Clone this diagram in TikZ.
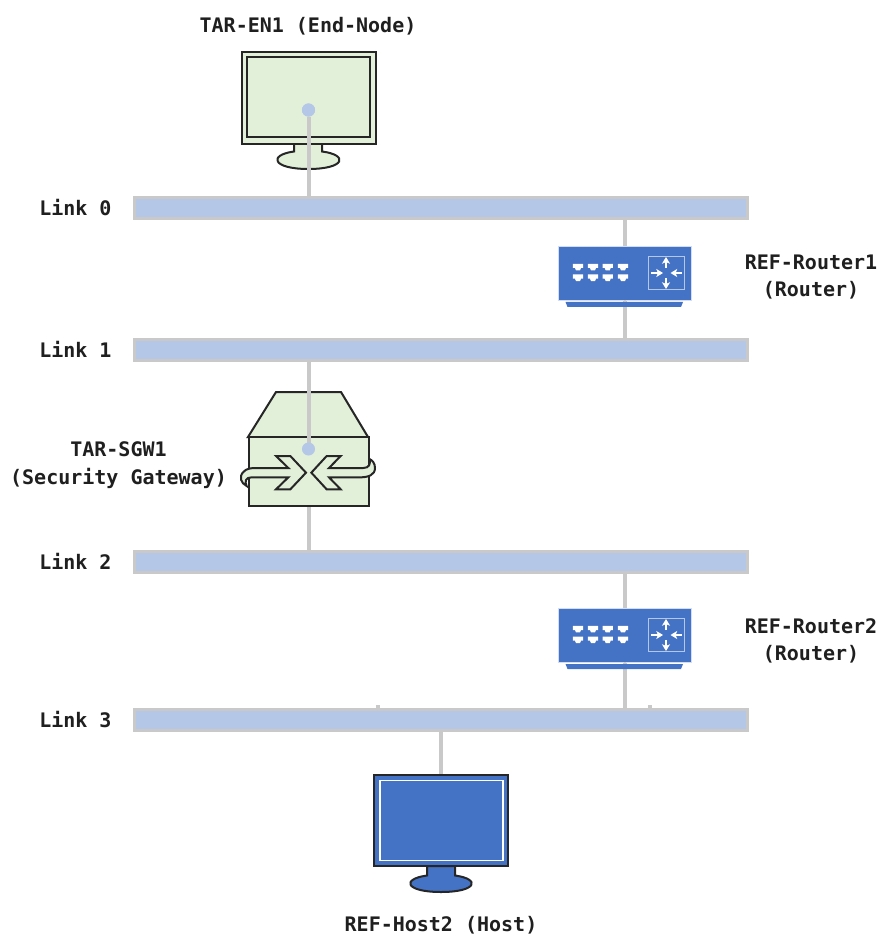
\documentclass[tikz,border=0pt]{standalone}
\usepackage{fontspec}
\setmonofont{DejaVu Sans Mono}
\usetikzlibrary{arrows.meta}
\pgfdeclarelayer{back}
\pgfsetlayers{back,main}
\definecolor{barblue}{HTML}{B4C7E7}
\definecolor{wiregray}{HTML}{C9C9C9}
\definecolor{devblue}{HTML}{4472C4}
\definecolor{devgreen}{HTML}{E2F0D9}
\tikzset{
  lbl/.style={font=\ttfamily\bfseries\fontsize{15pt}{20.6pt}\selectfont, text=black!88, inner sep=0pt, align=center},
  linkbar/.style={draw=wiregray, fill=barblue, line width=2.6pt, minimum width=459.5pt, minimum height=15.8pt, inner sep=0pt, outer sep=0pt},
  wire/.style={draw=wiregray, line width=3pt},
  enddot/.style={circle, fill=barblue, minimum size=9.8pt, inner sep=0pt, outer sep=0pt},
  box/.style={rectangle, inner sep=0pt, outer sep=0pt},
  dev/.style={draw=black!85, line width=1.5pt, line join=miter},
}
\newcommand{\routericon}[2]{%
  \begin{scope}[shift={(#1,#2)}]
    \fill[devblue,draw=barblue!60!white,line width=.6pt] (-66.5,-27) rectangle (66.5,27);
    \fill[devblue] (-59,29) -- (58.5,29) -- (56.5,34) -- (-57,34) -- cycle;
    \draw[barblue,line width=.7pt] (23.5,-17) rectangle (59.5,16);
    \foreach \xx in {-46.5,-31.5,-16.8,-1.5}{
      \foreach \yy in {-6,4.7}{
        \fill[white] (\xx-5.2,\yy-3.2) -- (\xx+5.2,\yy-3.2) -- (\xx+5.2,\yy+1) -- (\xx+3,\yy+1) -- (\xx+2,\yy+3.4) -- (\xx-2,\yy+3.4) -- (\xx-3,\yy+1) -- (\xx-5.2,\yy+1) -- cycle;
      }
    }
    \begin{scope}[white,line width=1.1pt,-{Stealth[length=5pt,width=6pt,inset=1.2pt]}]
      \draw (26.5,0) -- (38.5,0);
      \draw (57.5,0) -- (46,0);
      \draw (41.5,-5) -- (41.5,-16);
      \draw (41.5,5) -- (41.5,16);
    \end{scope}
  \end{scope}}
\begin{document}
\begin{tikzpicture}[x=0.75pt,y=-0.75pt]
\useasboundingbox (0,0) rectangle (881,937);

% link bars
\node[linkbar] (link0) at (441,208) {};
\node[linkbar] (link1) at (441,350) {};
\node[linkbar] (link2) at (441,562) {};
\node[linkbar] (link3) at (441,720) {};

% device anchors
\node[box, minimum width=100.5pt, minimum height=69pt] (en1) at (308.5,98) {};
\node[box, minimum width=99.75pt, minimum height=40.5pt] (router1) at (625,273) {};
\node[box, minimum width=99.75pt, minimum height=40.5pt] (router2) at (625,635) {};
\node[box, minimum width=90pt, minimum height=51.75pt] (sgw1) at (308.5,471.5) {};
\node[box, minimum width=100.5pt, minimum height=68.25pt] (host2) at (441,820.5) {};

% wires behind the devices
\begin{pgfonlayer}{back}
  \draw[wire] (router1 |- link0.south) -- (router1 |- link1.north);
  \draw[wire] (router2 |- link2.south) -- (router2 |- link3.north);
  \draw[wire] (host2 |- link3.south) -- (host2.north);
  \draw[wire] (sgw1 |- sgw1.south) -- (sgw1 |- link2.north);
\end{pgfonlayer}
\draw[wiregray,line width=2.4pt] ([xshift=-47.25pt]link3.north) -- ++(0,-4);
\draw[wiregray,line width=2.4pt] ([xshift=156.75pt]link3.north) -- ++(0,-4);

% TAR-EN1 monitor
\draw[dev,fill=devgreen] (294,151.5) .. controls (268,155) and (272,169) .. (308.5,169) .. controls (345,169) and (349,155) .. (322,151.5) -- (322,144) -- (294,144) -- cycle;
\draw[dev,fill=devgreen] (en1.north west) rectangle (en1.south east);
\draw[dev] (247,57.5) rectangle (370,137.5);
\node[enddot] (dot1) at (308.5,110) {};
\draw[wire] (dot1) -- (dot1 |- link0.north);
\node[enddot] at (dot1) {};

% routers
\routericon{624.5}{273}
\routericon{624.5}{635}
\draw[wiregray,line width=1.5pt] (624.5,300) -- (624.5,302);
\draw[wiregray,line width=1.5pt] (624.5,662) -- (624.5,664);

% security gateway
\draw[dev,fill=devgreen] (248,437) -- (276,392) -- (341,392) -- (368,437) -- cycle;
\draw[dev,fill=devgreen] (sgw1.north west) rectangle (sgw1.south east);
\begin{scope}[shift={(225,380)},x=0.25pt,y=-0.25pt]
  \draw[dev,fill=devgreen]
    (153,228) -- (196,228) -- (243,278) -- (196,328) -- (153,328) -- (190,292) -- (80,292)
    .. controls (62,292) and (58,304) .. (65,318)
    .. controls (48,310) and (40,290) .. (56,275)
    .. controls (64,266) and (78,264) .. (92,264) -- (190,264) -- cycle;
  \draw[dev,fill=devgreen]
    (347,228) -- (305,228) -- (259,278) -- (305,328) -- (347,328) -- (312,292) -- (405,292)
    .. controls (430,292) and (450,285) .. (450,264)
    .. controls (450,250) and (442,240) .. (433,237)
    .. controls (438,252) and (432,264) .. (415,264) -- (312,264) -- cycle;
\end{scope}
\draw[wire] (dot1 |- link1.south) -- (308.5,449);
\node[enddot] (dot2) at (308.5,449) {};

% host
\draw[dev,fill=devblue] (427,875.5) .. controls (401,879) and (405,892) .. (441,892) .. controls (477,892) and (481,879) .. (455,875.5) -- (455,866) -- (427,866) -- cycle;
\draw[dev,fill=devblue] (host2.north west) rectangle (host2.south east);
\draw[white,line width=.9pt] (380,780.5) rectangle (503,860.5);

% labels
\node[lbl] (t0) at (308,26) {TAR-EN1 (End-Node)};
\node[lbl,anchor=west] (l0) at (39,207.5) {Link 0};
\node[lbl,anchor=west] (l1) at (39,349.5) {Link 1};
\node[lbl,anchor=west] (l2) at (39,561.5) {Link 2};
\node[lbl,anchor=west] (l3) at (39,719.5) {Link 3};
\node[lbl] (t1) at (811,277) {REF-Router1\\(Router)};
\node[lbl] (t2) at (811,641) {REF-Router2\\(Router)};
\node[lbl] (t3) at (118.5,465) {TAR-SGW1\\(Security Gateway)};
\node[lbl] (t4) at (441,925.5) {REF-Host2 (Host)};
\end{tikzpicture}
\end{document}
